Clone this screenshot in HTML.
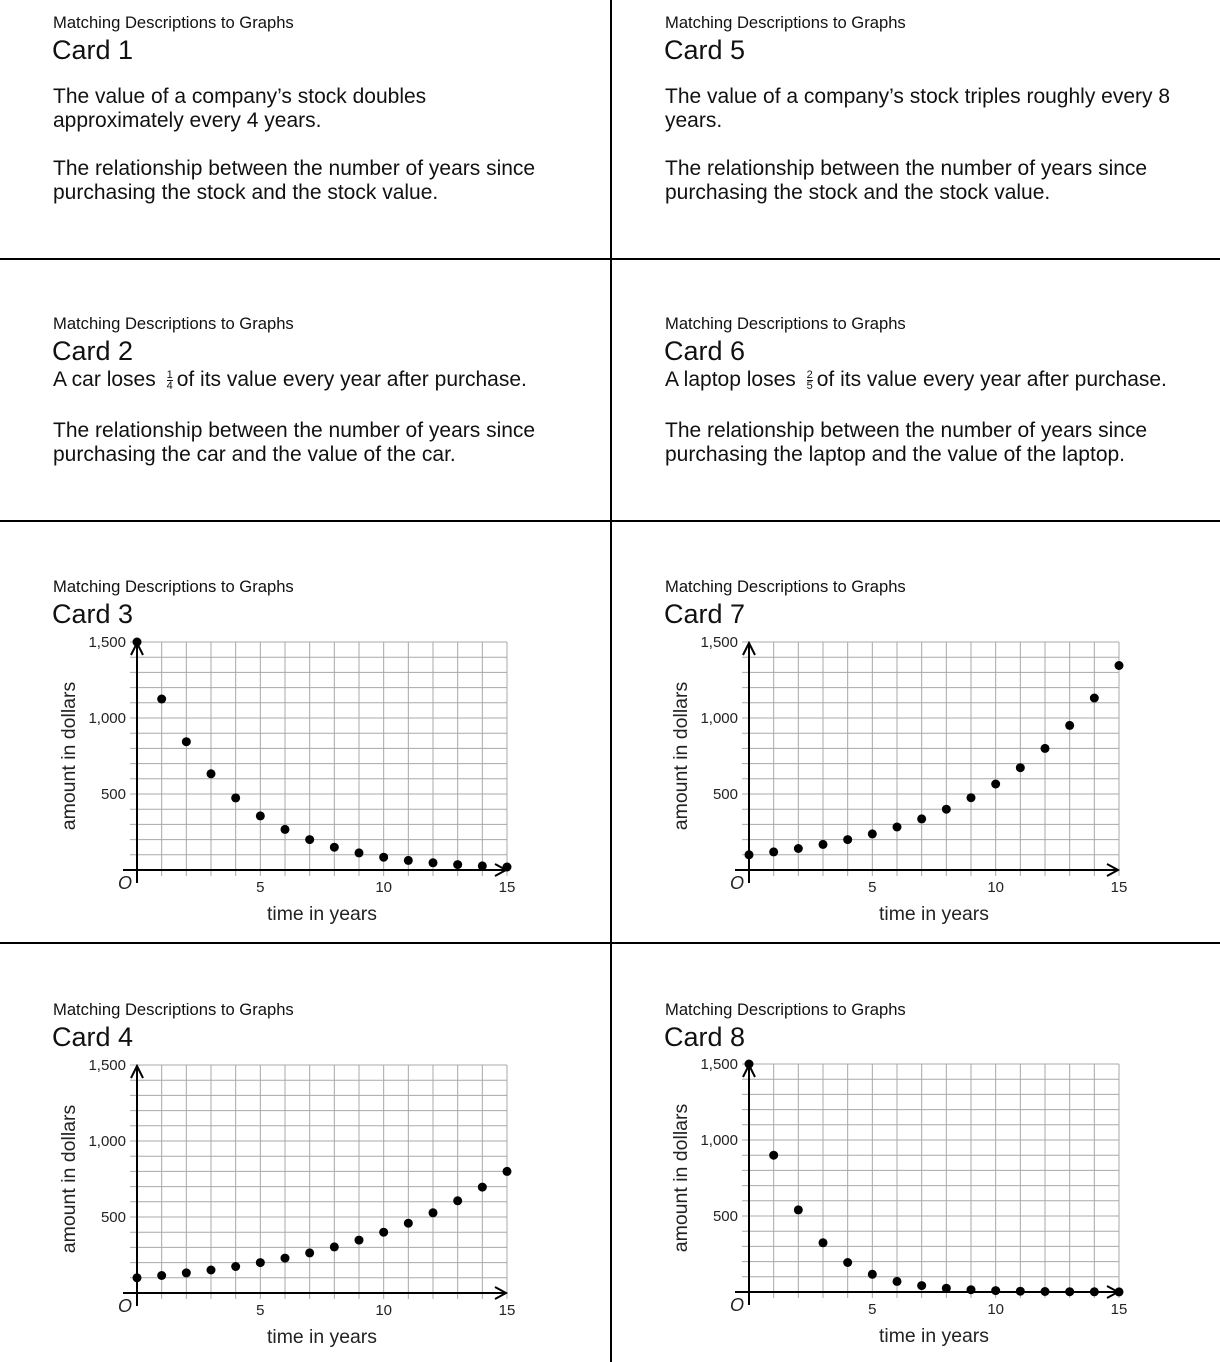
<!DOCTYPE html>
<html><head><meta charset="utf-8"><style>
body{margin:0;width:1220px;height:1362px;position:relative;background:#fff;font-family:"Liberation Sans",sans-serif;color:#111;overflow:hidden}
.t{position:absolute;white-space:nowrap}
.h{font-size:16.6px;line-height:20px}
.c{font-size:27px;line-height:32px}
.b{font-size:21px;line-height:24px}
.fr{display:inline-block;vertical-align:middle;font-size:11px;line-height:10px;text-align:center;margin:0 4px 0 5px}
.fr span{display:block}
.fr .n{border-bottom:1px solid #111}
svg{position:absolute;left:0;top:0}
</style></head><body>
<svg width="1220" height="1362" viewBox="0 0 1220 1362">
<defs>
<g id="grid">
<path fill="none" stroke="#a8a8a8" stroke-width="1" d="M24.67 6V-228M49.33 6V-228M74 6V-228M98.67 6V-228M123.33 6V-228M148 6V-228M172.67 6V-228M197.33 6V-228M222 6V-228M246.67 6V-228M271.33 6V-228M296 6V-228M320.67 6V-228M345.33 6V-228M370 6V-228M-7 -15.2H370M-7 -30.4H370M-7 -45.6H370M-7 -60.8H370M-7 -76H370M-7 -91.2H370M-7 -106.4H370M-7 -121.6H370M-7 -136.8H370M-7 -152H370M-7 -167.2H370M-7 -182.4H370M-7 -197.6H370M-7 -212.8H370M-7 -228H370"/>
<path fill="none" stroke="#000" stroke-width="2" d="M-14 0H368M0 13V-225"/>
<path fill="none" stroke="#000" stroke-width="2" d="M358 -6L369 0L358 6M-6 -215L0 -227L6 -215"/>
<g font-family="Liberation Sans,sans-serif" font-size="15" fill="#222">
<text x="-11" y="-223" text-anchor="end">1,500</text>
<text x="-11" y="-147" text-anchor="end">1,000</text>
<text x="-11" y="-71" text-anchor="end">500</text>
<text x="123.3" y="22" text-anchor="middle">5</text>
<text x="246.7" y="22" text-anchor="middle">10</text>
<text x="370" y="22" text-anchor="middle">15</text>
<text x="-19" y="19" font-style="italic" font-size="18">O</text>
<text x="185" y="50" text-anchor="middle" font-size="19.4">time in years</text>
<text transform="translate(-62,-114) rotate(-90)" text-anchor="middle" font-size="19.5">amount in dollars</text>
</g>
</g>
</defs>
<path stroke="#000" stroke-width="2" d="M611 0V1362M0 259H1220M0 521H1220M0 943H1220"/>
<g transform="translate(137,870)"><use href="#grid"/>
<g fill="#000"><circle cx="0" cy="-228" r="4.5"/><circle cx="24.67" cy="-171" r="4.5"/><circle cx="49.33" cy="-128.3" r="4.5"/><circle cx="74" cy="-96.2" r="4.5"/><circle cx="98.67" cy="-72.1" r="4.5"/><circle cx="123.33" cy="-54.1" r="4.5"/><circle cx="148" cy="-40.6" r="4.5"/><circle cx="172.67" cy="-30.4" r="4.5"/><circle cx="197.33" cy="-22.8" r="4.5"/><circle cx="222" cy="-17.1" r="4.5"/><circle cx="246.67" cy="-12.8" r="4.5"/><circle cx="271.33" cy="-9.6" r="4.5"/><circle cx="296" cy="-7.2" r="4.5"/><circle cx="320.67" cy="-5.4" r="4.5"/><circle cx="345.33" cy="-4.1" r="4.5"/><circle cx="370" cy="-3" r="4.5"/></g></g>
<g transform="translate(749,870)"><use href="#grid"/>
<g fill="#000"><circle cx="0" cy="-15.2" r="4.5"/><circle cx="24.67" cy="-18.1" r="4.5"/><circle cx="49.33" cy="-21.5" r="4.5"/><circle cx="74" cy="-25.6" r="4.5"/><circle cx="98.67" cy="-30.4" r="4.5"/><circle cx="123.33" cy="-36.1" r="4.5"/><circle cx="148" cy="-43" r="4.5"/><circle cx="172.67" cy="-51.1" r="4.5"/><circle cx="197.33" cy="-60.8" r="4.5"/><circle cx="222" cy="-72.3" r="4.5"/><circle cx="246.67" cy="-86" r="4.5"/><circle cx="271.33" cy="-102.3" r="4.5"/><circle cx="296" cy="-121.6" r="4.5"/><circle cx="320.67" cy="-144.6" r="4.5"/><circle cx="345.33" cy="-172" r="4.5"/><circle cx="370" cy="-204.5" r="4.5"/></g></g>
<g transform="translate(137,1293)"><use href="#grid"/>
<g fill="#000"><circle cx="0" cy="-15.2" r="4.5"/><circle cx="24.67" cy="-17.5" r="4.5"/><circle cx="49.33" cy="-20.1" r="4.5"/><circle cx="74" cy="-23" r="4.5"/><circle cx="98.67" cy="-26.5" r="4.5"/><circle cx="123.33" cy="-30.4" r="4.5"/><circle cx="148" cy="-34.9" r="4.5"/><circle cx="172.67" cy="-40.1" r="4.5"/><circle cx="197.33" cy="-46.1" r="4.5"/><circle cx="222" cy="-52.9" r="4.5"/><circle cx="246.67" cy="-60.8" r="4.5"/><circle cx="271.33" cy="-69.8" r="4.5"/><circle cx="296" cy="-80.2" r="4.5"/><circle cx="320.67" cy="-92.2" r="4.5"/><circle cx="345.33" cy="-105.9" r="4.5"/><circle cx="370" cy="-121.6" r="4.5"/></g></g>
<g transform="translate(749,1292)"><use href="#grid"/>
<g fill="#000"><circle cx="0" cy="-228" r="4.5"/><circle cx="24.67" cy="-136.8" r="4.5"/><circle cx="49.33" cy="-82.1" r="4.5"/><circle cx="74" cy="-49.2" r="4.5"/><circle cx="98.67" cy="-29.5" r="4.5"/><circle cx="123.33" cy="-17.7" r="4.5"/><circle cx="148" cy="-10.6" r="4.5"/><circle cx="172.67" cy="-6.4" r="4.5"/><circle cx="197.33" cy="-3.8" r="4.5"/><circle cx="222" cy="-2.3" r="4.5"/><circle cx="246.67" cy="-1.4" r="4.5"/><circle cx="271.33" cy="-0.8" r="4.5"/><circle cx="296" cy="-0.5" r="4.5"/><circle cx="320.67" cy="-0.3" r="4.5"/><circle cx="345.33" cy="-0.2" r="4.5"/><circle cx="370" cy="-0.1" r="4.5"/></g></g>
</svg>

<div class="t h" style="left:53px;top:13px">Matching Descriptions to Graphs</div>
<div class="t c" style="left:52px;top:34px">Card 1</div>
<div class="t b" style="left:53px;top:85px">The value of a company’s stock doubles<br>approximately every 4 years.</div>
<div class="t b" style="left:53px;top:157px">The relationship between the number of years since<br>purchasing the stock and the stock value.</div>

<div class="t h" style="left:665px;top:13px">Matching Descriptions to Graphs</div>
<div class="t c" style="left:664px;top:34px">Card 5</div>
<div class="t b" style="left:665px;top:85px">The value of a company’s stock triples roughly every 8<br>years.</div>
<div class="t b" style="left:665px;top:157px">The relationship between the number of years since<br>purchasing the stock and the stock value.</div>

<div class="t h" style="left:53px;top:314px">Matching Descriptions to Graphs</div>
<div class="t c" style="left:52px;top:335px">Card 2</div>
<div class="t b" style="left:53px;top:368px">A car loses <span class="fr"><span class="n">1</span><span>4</span></span>of its value every year after purchase.</div>
<div class="t b" style="left:53px;top:419px">The relationship between the number of years since<br>purchasing the car and the value of the car.</div>

<div class="t h" style="left:665px;top:314px">Matching Descriptions to Graphs</div>
<div class="t c" style="left:664px;top:335px">Card 6</div>
<div class="t b" style="left:665px;top:368px">A laptop loses <span class="fr"><span class="n">2</span><span>5</span></span>of its value every year after purchase.</div>
<div class="t b" style="left:665px;top:419px">The relationship between the number of years since<br>purchasing the laptop and the value of the laptop.</div>

<div class="t h" style="left:53px;top:577px">Matching Descriptions to Graphs</div>
<div class="t c" style="left:52px;top:598px">Card 3</div>
<div class="t h" style="left:665px;top:577px">Matching Descriptions to Graphs</div>
<div class="t c" style="left:664px;top:598px">Card 7</div>
<div class="t h" style="left:53px;top:1000px">Matching Descriptions to Graphs</div>
<div class="t c" style="left:52px;top:1021px">Card 4</div>
<div class="t h" style="left:665px;top:1000px">Matching Descriptions to Graphs</div>
<div class="t c" style="left:664px;top:1021px">Card 8</div>
</body></html>
